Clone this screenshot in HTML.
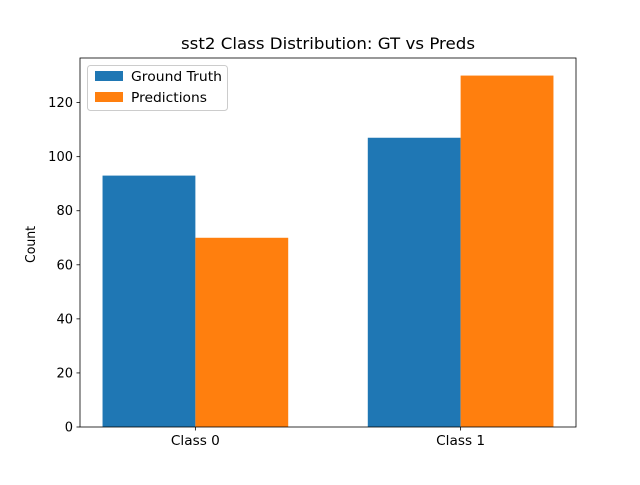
<!DOCTYPE html>
<html><head><meta charset="utf-8"><style>
body{margin:0;background:#fff;}
text{font-family:"DejaVu Sans","Liberation Sans",sans-serif;}
</style></head><body>
<svg id="chart" width="640" height="480" xmlns="http://www.w3.org/2000/svg">
<rect width="640" height="480" fill="#fff"/>
<g id="bars"></g>
<g id="axes"></g>
<text x="181" y="49" font-size="16" textLength="294" lengthAdjust="spacingAndGlyphs" fill="#000">sst2 Class Distribution: GT vs Preds</text>
<text transform="translate(35,263) rotate(-90)" font-size="13" textLength="37" lengthAdjust="spacingAndGlyphs" fill="#000">Count</text>
<g>
<rect x="87.5" y="65.5" width="140" height="45" rx="3" fill="#fff" fill-opacity="0.8" stroke="#ccc"/>
<rect x="95" y="71" width="28" height="10" fill="#1f77b4"/>
<text x="131" y="81" font-size="13" textLength="91" lengthAdjust="spacingAndGlyphs">Ground Truth</text>
<rect x="95" y="92" width="28" height="10" fill="#ff7f0e"/>
<text x="131" y="102" font-size="13" textLength="76" lengthAdjust="spacingAndGlyphs">Predictions</text>
</g>
</svg>
<script>
const categories = ["Class 0", "Class 1"];
const gtValues = [93, 107];
const predValues = [70, 130];
const yTicks = [0, 20, 40, 60, 80, 100, 120];

const L=80,R=576,T=58,B=427;
const xMin=-0.435,xMax=1.435,yMax=136.5;
const xs=v=>L+(v-xMin)/(xMax-xMin)*(R-L);
const ys=v=>B-v/yMax*(B-T);
const NS="http://www.w3.org/2000/svg";
const bars=document.getElementById('bars'),axes=document.getElementById('axes');
function mk(tag,attrs,parent){const e=document.createElementNS(NS,tag);for(const k in attrs)e.setAttribute(k,attrs[k]);parent.appendChild(e);return e;}
const w=0.35;
categories.forEach((c,i)=>{
  const g=mk('rect',{x:xs(i-w),y:ys(gtValues[i]),width:xs(i)-xs(i-w),height:B-ys(gtValues[i]),fill:'#1f77b4'},bars);
  
  
  const p=mk('rect',{x:xs(i),y:ys(predValues[i]),width:xs(i+w)-xs(i),height:B-ys(predValues[i]),fill:'#ff7f0e'},bars);
  
  
  const t=mk('line',{x1:xs(i),x2:xs(i),y1:B,y2:B+3.5,stroke:'#000','stroke-width':0.8},axes);
  
  
  const l=mk('text',{x:xs(i)-24.5,y:B+18,'font-size':13,textLength:49,lengthAdjust:'spacingAndGlyphs'},axes);
  l.textContent=c;
  
  
});
yTicks.forEach(v=>{
  const t=mk('line',{x1:L-3.5,x2:L,y1:ys(v),y2:ys(v),stroke:'#000','stroke-width':0.8},axes);
  
  
  const l=mk('text',{x:L-7,y:ys(v)+4.5,'text-anchor':'end','font-size':13},axes);
  l.textContent=v;
  
  
});
const f=mk('rect',{x:L,y:T,width:R-L,height:B-T,fill:'none',stroke:'#000','stroke-width':0.8},axes);


</script>
</body></html>
